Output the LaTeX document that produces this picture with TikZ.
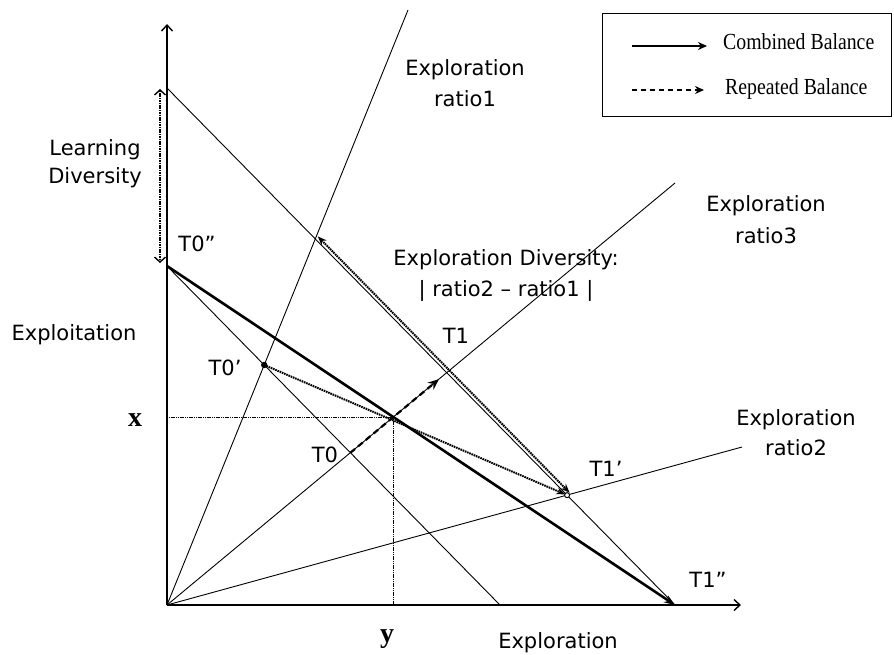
\documentclass[tikz,border=0pt]{standalone}
\usepackage{graphicx}
\usepackage{fontspec}
\setmainfont{DejaVu Sans}
\newfontfamily\legendfont{Liberation Serif}
\usetikzlibrary{arrows.meta,calc}
\begin{document}
\begin{tikzpicture}[x=1pt,y=-1pt,
  lab/.style={inner sep=0pt, font=\fontsize{21}{21}\selectfont},
  labtwo/.style={inner sep=0pt, align=center, anchor=north, font=\fontsize{21}{31.5}\selectfont},
  var/.style={inner sep=0pt, font=\legendfont\bfseries\fontsize{28}{28}\selectfont},
  legtext/.style={inner sep=0pt, anchor=base west, font=\legendfont\fontsize{23}{23}\selectfont},
  thinline/.style={line width=0.9pt},
  axisline/.style={line width=2pt, -{Straight Barb[length=6pt,width=11pt,line width=1.4pt]}},
  combline/.style={line width=2.6pt, -{Stealth[length=11pt,width=8pt]}},
  repline/.style={line width=2.2pt, dash pattern=on 6pt off 4pt, -{Stealth[length=11pt,width=9pt]}},
  dotline/.style={line width=2pt, dash pattern=on 1.6pt off 0.8pt},
  dotarrow/.style={dotline, -{Stealth[length=9pt,width=7pt]}},
  dotdouble/.style={dotline, {Stealth[length=9pt,width=7pt]}-{Stealth[length=9pt,width=7pt]}},
  guide/.style={line width=0.9pt, dash pattern=on 1.2pt off 0.6pt}
]
\useasboundingbox (0,0) rectangle (894,654);

% key points
\coordinate (O) at (167,605);
\coordinate (Ytop) at (167,24);
\coordinate (Xend) at (741,605);
\coordinate (T0pp) at (167,266);
\coordinate (T1pp) at (675,605);
\coordinate (Utop) at (167,88);
\coordinate (Lbot) at (500,605);
\coordinate (R1) at (408,10);
\coordinate (R3) at (675,183);
\coordinate (R2) at (742,447);
\coordinate (C) at (intersection of O--R3 and T0pp--T1pp);
\coordinate (Xl) at (C -| O);
\coordinate (Yl) at (C |- O);
\coordinate (T0p) at (intersection of O--R1 and T0pp--Lbot);
\coordinate (T1p) at (intersection of O--R2 and Utop--T1pp);
\coordinate (T0) at (intersection of O--R3 and T0pp--Lbot);
\coordinate (T1) at (intersection of O--R3 and Utop--T1pp);
\coordinate (A) at (intersection of O--R1 and Utop--T1pp);
\coordinate (T1end) at ($(T0)!0.92!(T1)$);
\coordinate (LDtop) at (160,89);
\coordinate (LDbot) at (160,263);

% ratio lines and budget lines
\draw[thinline] (O) -- (R1);
\draw[thinline] (O) -- (R3);
\draw[thinline] (O) -- (R2);
\draw[thinline] (Utop) -- (T1pp);
\draw[thinline] (T0pp) -- (Lbot);

% guides to x and y
\draw[guide] (Xl) -- (C);
\draw[guide] (C) -- (Yl);

% axes
\draw[axisline] (O) -- (Ytop);
\draw[axisline] (O) -- (Xend);

% combined balance
\draw[combline] (T0pp) -- (T1pp);

% repeated balance
\draw[repline] (T0) -- (T1end);

% dotted arrows
\draw[dotarrow, shorten >=2pt] (T0p) -- (T1p);
\draw[dotdouble] ($(A)+(2.5,-2.5)$) -- ($(T1p)+(2.5,-2.5)$);
\draw[dotline, {Straight Barb[length=5pt,width=11pt,line width=1.4pt]}-{Straight Barb[length=5pt,width=11pt,line width=1.4pt]}] (LDtop) -- (LDbot);

% points
\fill (T0p) circle (3.2pt);
\draw[line width=1pt, fill=white] (T1p) circle (2.5pt);

% labels
\node[labtwo, font=\fontsize{21}{28}\selectfont] (ld) at (95,139) {Learning\\Diversity};
\node[lab] (t0pp) at (197,244) {T0”};
\node[lab] (expl) at (74,335) {Exploitation};
\node[lab] (t0p) at (225,368) {T0’};
\node[lab] (t0) at (325,455) {T0};
\node[lab] (t1) at (456,336) {T1};
\node[lab] (t1p) at (606,469) {T1’};
\node[lab] (t1pp) at (708,580) {T1”};
\node[var] (xlab) at (135,420) {x};
\node[var] (ylab) at (387,639) {y};
\node[lab] (exb) at (558,643) {Exploration};
\node[labtwo] (r1) at (465,59) {Exploration\\ratio1};
\node[labtwo, font=\fontsize{21}{32}\selectfont] (r3) at (766,195) {Exploration\\ratio3};
\node[labtwo, font=\fontsize{21}{30}\selectfont] (r2) at (796,409) {Exploration\\ratio2};
\node[labtwo, font=\fontsize{21}{31}\selectfont] (ed) at (506,249) {Exploration Diversity:\\| ratio2 -- ratio1 |};

% legend
\node[draw, line width=1.3pt, minimum width=289pt, minimum height=103pt, anchor=north west, inner sep=0pt] (legend) at (602,13) {};
\coordinate (la1) at (632,46);
\coordinate (la2) at (707,46);
\coordinate (lb1) at (632,90);
\coordinate (lb2) at (704,90);
\draw[line width=1.6pt, -{Stealth[length=9pt,width=8pt]}] (la1) -- (la2);
\draw[line width=1.6pt, dash pattern=on 5pt off 4pt, -{Stealth[length=9pt,width=8pt]}] (lb1) -- (lb2);
\node[legtext] (lt1) at (723,49) {\scalebox{0.86}[1]{Combined Balance}};
\node[legtext] (lt2) at (725,94) {\scalebox{0.86}[1]{Repeated Balance}};
\end{tikzpicture}
\end{document}
